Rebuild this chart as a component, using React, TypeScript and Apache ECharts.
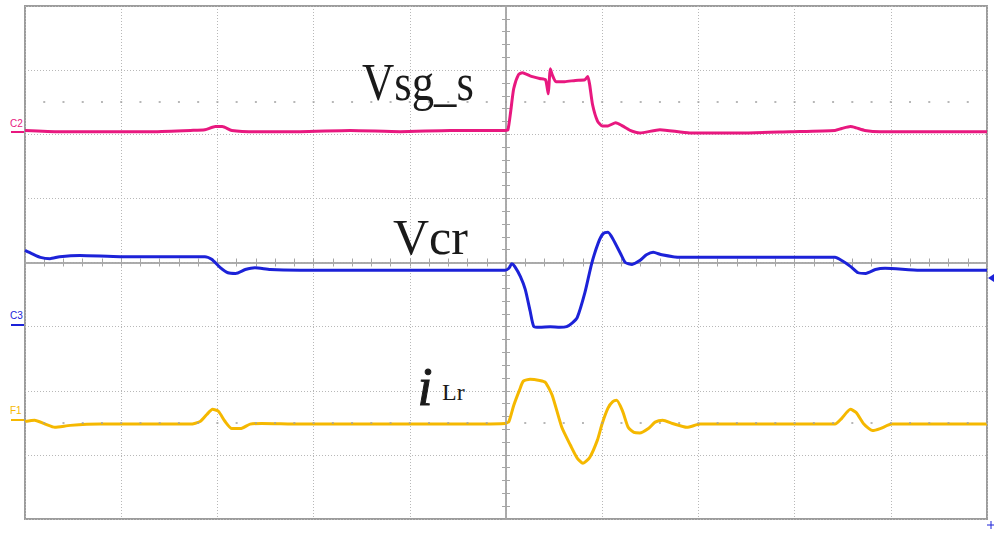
import React, { useEffect, useRef } from "react";
import * as echarts from "echarts";

// time in divisions relative to the trigger (centre of screen), amplitude in divisions
const vsgS: [number, number][] = [
  [-5, 2.06], [-4.64, 2.04], [-4.22, 2.04], [-3.7, 2.04], [-3.28, 2.06], [-3.13, 2.07], [-3.02, 2.12], [-2.95, 2.12],
  [-2.85, 2.06], [-2.56, 2.04], [-2.14, 2.04], [-1.62, 2.06], [-1.1, 2.04], [-0.58, 2.06], [-0.01, 2.06], [0.02, 2.07],
  [0.05, 2.37], [0.08, 2.71], [0.13, 2.93], [0.17, 2.96], [0.25, 2.91], [0.35, 2.87], [0.41, 2.85], [0.43, 2.71],
  [0.44, 2.63], [0.45, 2.84], [0.46, 3.02], [0.48, 2.93], [0.52, 2.82], [0.61, 2.82], [0.72, 2.84], [0.82, 2.85],
  [0.85, 2.9], [0.87, 2.77], [0.9, 2.46], [0.95, 2.21], [1.0, 2.13], [1.06, 2.13], [1.14, 2.18], [1.21, 2.13],
  [1.29, 2.06], [1.39, 2.02], [1.6, 2.07], [1.91, 2.02], [2.43, 2.02], [2.95, 2.04], [3.42, 2.06], [3.49, 2.09],
  [3.58, 2.12], [3.64, 2.1], [3.73, 2.06], [3.89, 2.04], [4.3, 2.04], [4.72, 2.04], [5, 2.04],
];

const vcr: [number, number][] = [
  [-5, 0.19], [-4.93, 0.14], [-4.84, 0.08], [-4.74, 0.06], [-4.64, 0.09], [-4.43, 0.11], [-4.01, 0.09], [-3.6, 0.09],
  [-3.13, 0.09], [-3.06, 0.05], [-2.97, -0.08], [-2.89, -0.16], [-2.81, -0.17], [-2.71, -0.11], [-2.61, -0.08],
  [-2.45, -0.11], [-2.14, -0.12], [-1.62, -0.12], [-1.1, -0.12], [-0.58, -0.12], [-0.01, -0.12], [0.03, -0.09],
  [0.06, -0.02], [0.09, -0.06], [0.15, -0.22], [0.2, -0.42], [0.25, -0.75], [0.29, -1.0], [0.35, -1.01], [0.46, -1.0],
  [0.56, -1.01], [0.63, -1.0], [0.69, -0.94], [0.74, -0.86], [0.82, -0.47], [0.89, -0.02], [0.96, 0.31], [1.01, 0.45],
  [1.06, 0.47], [1.11, 0.37], [1.19, 0.14], [1.24, 0], [1.31, -0.03], [1.39, 0.03], [1.46, 0.12], [1.53, 0.16],
  [1.62, 0.12], [1.81, 0.08], [2.23, 0.08], [2.85, 0.08], [3.42, 0.08], [3.49, 0.03], [3.58, -0.06], [3.66, -0.16],
  [3.74, -0.17], [3.84, -0.11], [3.94, -0.09], [4.3, -0.12], [4.72, -0.12], [5, -0.12],
];

const iLr: [number, number][] = [
  [-5, -2.48], [-4.9, -2.46], [-4.79, -2.52], [-4.69, -2.57], [-4.53, -2.54], [-4.22, -2.52], [-3.7, -2.52],
  [-3.28, -2.52], [-3.18, -2.48], [-3.11, -2.37], [-3.05, -2.29], [-2.99, -2.32], [-2.92, -2.48], [-2.85, -2.59],
  [-2.76, -2.59], [-2.66, -2.52], [-2.54, -2.51], [-2.14, -2.52], [-1.62, -2.52], [-1.1, -2.52], [-0.58, -2.52],
  [-0.01, -2.51], [0.03, -2.48], [0.08, -2.23], [0.14, -1.99], [0.18, -1.85], [0.25, -1.82], [0.35, -1.84],
  [0.41, -1.87], [0.48, -2.07], [0.58, -2.57], [0.67, -2.85], [0.74, -3.05], [0.8, -3.13], [0.87, -3.04],
  [0.95, -2.77], [1.0, -2.51], [1.06, -2.27], [1.11, -2.17], [1.15, -2.15], [1.21, -2.31], [1.27, -2.57],
  [1.33, -2.65], [1.39, -2.66], [1.48, -2.59], [1.55, -2.49], [1.63, -2.46], [1.73, -2.51], [1.88, -2.57],
  [2.02, -2.52], [2.54, -2.52], [3.06, -2.52], [3.42, -2.52], [3.49, -2.43], [3.58, -2.29], [3.64, -2.34],
  [3.72, -2.52], [3.81, -2.62], [3.89, -2.59], [4.01, -2.52], [4.41, -2.52], [5, -2.52],
];

const refLevels = [2.5, -2.5];

const PINK = "#e8187f";
const BLUE = "#1c22d8";
const YELLOW = "#f5b800";
const GRID = "#b8b8b8";
const AXIS = "#a6a6a6";

export default function App() {
  const ref = useRef<HTMLDivElement>(null);
  useEffect(() => {
    if (!ref.current) return;
    const chart = echarts.init(ref.current, null, { renderer: "svg" });

    const baseAxis = (pos: string, onZeroIdx: number, split: boolean, min: number, max: number) => ({
      type: "value",
      min,
      max,
      interval: 1,
      position: pos,
      axisLine: { show: true, onZero: true, onZeroAxisIndex: onZeroIdx, lineStyle: { color: AXIS, width: 1.5 } },
      axisTick: { show: true, inside: false, length: 4, lineStyle: { color: AXIS, width: 1 } },
      minorTick: { show: true, splitNumber: 5, length: 4, lineStyle: { color: AXIS, width: 1 } },
      axisLabel: { show: false },
      splitLine: { show: split, lineStyle: { color: GRID, width: 1, type: [1, 2] } },
    });

    chart.setOption({
      animation: false,
      backgroundColor: "#ffffff",
      grid: {
        left: 25,
        top: 6,
        right: 7,
        bottom: 14,
        show: true,
        borderColor: "#9c9c9c",
        borderWidth: 2,
        backgroundColor: "#ffffff",
      },
      xAxis: [baseAxis("bottom", 0, true, -5, 5), baseAxis("top", 1, false, -5, 5)],
      yAxis: [baseAxis("left", 0, true, -4, 4), baseAxis("right", 1, false, -4, 4)],
      series: [
        {
          type: "line",
          data: [],
          z: 1,
          silent: true,
          markLine: {
            silent: true,
            symbol: "none",
            label: { show: false },
            lineStyle: { color: "#a0a0a0", width: 1.5, type: [2, 17.24], dashOffset: 1 },
            data: refLevels.map((v) => ({ yAxis: v })),
          },
        },
        {
          name: "Vsg_s",
          type: "line",
          data: vsgS,
          showSymbol: false,
          smooth: 0.2,
          lineStyle: { color: PINK, width: 3 },
          z: 3,
        },
        {
          name: "Vcr",
          type: "line",
          data: vcr,
          showSymbol: false,
          smooth: 0.2,
          lineStyle: { color: BLUE, width: 3 },
          z: 3,
        },
        {
          name: "iLr",
          type: "line",
          data: iLr,
          showSymbol: false,
          smooth: 0.2,
          lineStyle: { color: YELLOW, width: 3 },
          z: 3,
        },
      ],
      graphic: [
        {
          type: "text",
          left: 362,
          top: 56,
          scaleX: 0.86,
          style: { text: "Vsg_s", font: "52px 'Liberation Serif'", fill: "#1a1a1a" },
          z: 10,
        },
        {
          type: "text",
          left: 393,
          top: 212,
          style: { text: "Vcr", font: "50px 'Liberation Serif'", fill: "#1a1a1a" },
          z: 10,
        },
        {
          type: "text",
          left: 417,
          top: 359,
          style: { text: "i", font: "italic 54px 'Liberation Serif'", fill: "#1a1a1a", stroke: "#1a1a1a", lineWidth: 1 },
          z: 10,
        },
        {
          type: "text",
          left: 442,
          top: 380,
          style: { text: "Lr", font: "24px 'Liberation Serif'", fill: "#1a1a1a" },
          z: 10,
        },
        { type: "text", left: 10, top: 118, style: { text: "C2", font: "10px 'Liberation Sans'", fill: PINK } },
        { type: "line", shape: { x1: 11, y1: 132, x2: 24, y2: 132 }, style: { stroke: PINK, lineWidth: 2 } },
        { type: "text", left: 10, top: 310, style: { text: "C3", font: "10px 'Liberation Sans'", fill: BLUE } },
        { type: "line", shape: { x1: 11, y1: 325, x2: 24, y2: 325 }, style: { stroke: BLUE, lineWidth: 2 } },
        { type: "text", left: 10, top: 405, style: { text: "F1", font: "10px 'Liberation Sans'", fill: YELLOW } },
        { type: "line", shape: { x1: 11, y1: 420, x2: 24, y2: 420 }, style: { stroke: YELLOW, lineWidth: 2 } },
        {
          type: "polygon",
          shape: { points: [[988, 278], [994, 274], [994, 282]] },
          style: { fill: BLUE },
        },
        { type: "line", shape: { x1: 987, y1: 525, x2: 994, y2: 525 }, style: { stroke: BLUE, lineWidth: 1 } },
        { type: "line", shape: { x1: 991, y1: 521, x2: 991, y2: 529 }, style: { stroke: BLUE, lineWidth: 1 } },
      ],
    });
    return () => chart.dispose();
  }, []);

  return (
    <div
      ref={ref}
      style={{ position: "fixed", left: 0, top: 0, width: 994, height: 533, background: "#fff" }}
    />
  );
}
